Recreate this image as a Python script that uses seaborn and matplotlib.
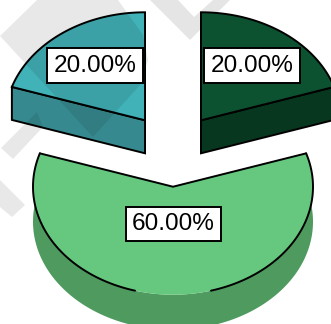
import numpy as np
import matplotlib
matplotlib.use("Agg")
import matplotlib.pyplot as plt
from matplotlib.patches import Polygon, PathPatch
from matplotlib.path import Path
import seaborn as sns

labels = ["20.00%", "60.00%", "20.00%"]
values = [20, 60, 20]
top_colors = ["#0c5230", "#66c87e", "#41b2b7"]
side_colors = ["#08371f", "#4f9a5f", "#368a8f"]
label_xy = [(252, 65.5), (173.5, 224), (95, 65.5)]

CX, CY, RX, RY, DEPTH, EXPLODE = 173, 150, 140, 108, 33, 0.34
LW = 1.4

sns.set_theme(style="white")
plt.rcParams["font.family"] = ["Liberation Sans", "DejaVu Sans"]
fig, ax = plt.subplots(figsize=(3.31, 3.24), dpi=100)
ax.set_position([0, 0, 1, 1])
ax.set_xlim(0, 331)
ax.set_ylim(324, 0)
ax.axis("off")

def arc(cx, cy, a0, a1):
    t = np.radians(np.linspace(a0, a1, 200))
    return np.c_[cx + RX * np.cos(t), cy - RY * np.sin(t)]

angle = 90.0
for val, tc, sc, lab, xy in zip(values, top_colors, side_colors, labels, label_xy):
    a0, a1 = angle, angle - val * 3.6
    angle = a1
    mid = np.radians((a0 + a1) / 2)
    cx = CX + EXPLODE * RX * np.cos(mid)
    cy = CY - EXPLODE * RY * np.sin(mid)
    rim = arc(cx, cy, a0, a1)
    apex = np.array([[cx, cy]])
    if val > 50:
        wall = np.r_[rim, rim[::-1] + [0, DEPTH + 2]]
        ax.add_patch(Polygon(wall, closed=True, fc=sc, ec="none", zorder=2))
        ax.add_patch(Polygon(np.r_[apex, rim], closed=True, fc=tc, ec="none", zorder=3))
        # outline stops where the rim meets the bottom of the chart
        xs = rim[:, 0]
        ax.plot(rim[xs > cx + 37, 0], rim[xs > cx + 37, 1], color="black", lw=LW, zorder=4)
        ax.plot(rim[xs < cx - 37, 0], rim[xs < cx - 37, 1], color="black", lw=LW, zorder=4)
        ax.plot([rim[0, 0], cx, rim[-1, 0]], [rim[0, 1], cy, rim[-1, 1]], color="black", lw=LW, zorder=4)
    else:
        outer = rim[0] if abs(rim[0, 0] - cx) > 1 else rim[-1]
        wall = np.array([[cx, cy], outer, outer + [0, DEPTH], [cx, cy + DEPTH]])
        ax.add_patch(Polygon(wall, closed=True, fc=sc, ec="black", lw=LW, zorder=2))
        ax.add_patch(Polygon(np.r_[apex, rim], closed=True, fc=tc, ec="black", lw=LW, zorder=3))
    ax.text(*xy, lab, ha="center", va="center", fontsize=17.6, color="black", zorder=6,
            bbox=dict(boxstyle="square,pad=0.26", fc="white", ec="black", lw=LW))

# faint watermark lying over the chart
bowl_outer = [(0, 36), (37, 0), (118, 0), (143, 35), (148, 60), (140, 85), (93, 137)]
bowl_inner = [(21, 41), (50, 10), (60, 6), (85, 6), (105, 17), (127, 38), (130, 60), (125, 85), (93, 113)]
verts = bowl_outer + [bowl_outer[0]] + bowl_inner + [bowl_inner[0]]
codes = ([Path.MOVETO] + [Path.LINETO] * (len(bowl_outer) - 1) + [Path.CLOSEPOLY]
         + [Path.MOVETO] + [Path.LINETO] * (len(bowl_inner) - 1) + [Path.CLOSEPOLY])
ax.add_patch(PathPatch(Path(verts, codes), fc="black", alpha=0.09, ec="none", zorder=5))
ax.add_patch(Polygon([(150, 0), (190, 40), (230, 0), (213, 0), (194, 17), (178, 0)],
                     closed=True, fc="black", alpha=0.1, ec="none", zorder=1))
for p in [[(37, 112), (43, 127), (13, 159), (1, 148)], [(0, 180), (25, 205), (12, 217), (0, 207)]]:
    ax.add_patch(Polygon(p, closed=True, fc="black", alpha=0.09, ec="none", zorder=5))

fig.savefig("out.png", dpi=100)
